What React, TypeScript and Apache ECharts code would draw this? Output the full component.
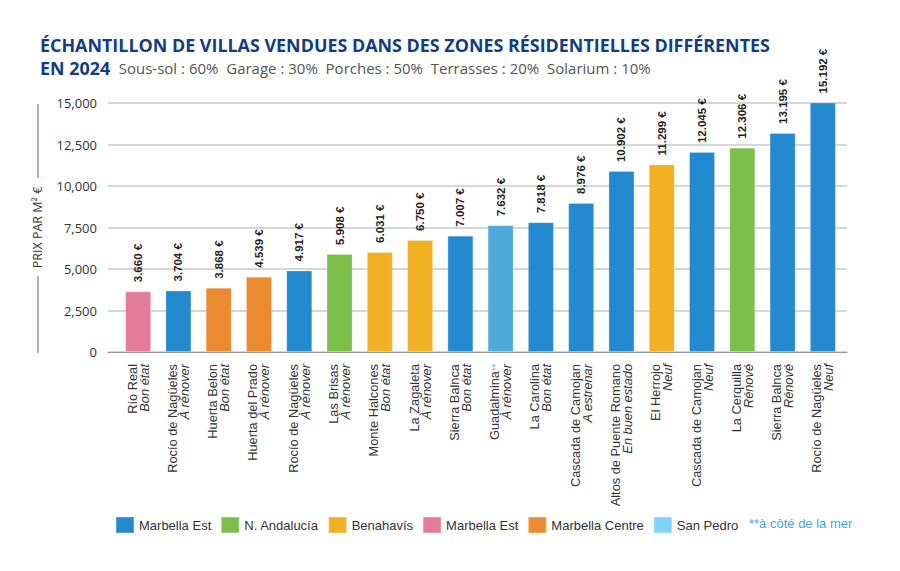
import React, { useEffect, useRef } from "react";
import * as echarts from "echarts";

const categories = [
  "Río Real", "Rocío de Nagüeles", "Huerta Belon", "Huerta del Prado", "Rocío de Nagüeles",
  "Las Brisas", "Monte Halcones", "La Zagaleta", "Sierra Balnca", "Guadalmina**",
  "La Carolina", "Cascada de Camojan", "Altos de Puente Romano", "El Herrojo",
  "Cascada de Camojan", "La Cerquilla", "Sierra Balnca", "Rocío de Nagüeles",
];
const conditions = [
  "Bon état", "À rénover", "Bon état", "À rénover", "À rénover",
  "À rénover", "Bon état", "À rénover", "Bon état", "À rénover",
  "Bon état", "A estrenar", "En buen estado", "Neuf",
  "Neuf", "Rénové", "Rénové", "Neuf",
];
const prices = [
  3660, 3704, 3868, 4539, 4917, 5908, 6031, 6750, 7007, 7632,
  7818, 8976, 10902, 11299, 12045, 12306, 13195, 15192,
];
// index into zoneNames
const zoneOfBar = [3, 0, 4, 4, 0, 1, 2, 2, 0, 5, 0, 0, 0, 2, 0, 1, 0, 0];
const zoneNames = ["Marbella Est", "N. Andalucía", "Benahavís", "Marbella Est", "Marbella Centre", "San Pedro"];
const zoneColors = ["#238ACF", "#7CBE4A", "#F2B025", "#E57B9B", "#EB8A31", "#4DAADB"];
const legendColors = ["#238ACF", "#7CBE4A", "#F2B025", "#E57B9B", "#EB8A31", "#80D3F7"];
const yTicks = { min: 0, max: 15000, interval: 2500 };
const titleText = "ÉCHANTILLON DE VILLAS VENDUES DANS DES ZONES RÉSIDENTIELLES DIFFÉRENTES";
const yearText = "EN 2024";
const subtitleText = "Sous-sol : 60%  Garage : 30%  Porches : 50%  Terrasses : 20%  Solarium : 10%";
const yName = "PRIX PAR M² €";
const seasideNote = "**à côté de la mer";

const FONT = "Open Sans";
const ARIAL = "Liberation Sans";

const fmtEuro = (v: number) => String(v).replace(/\B(?=(\d{3})+(?!\d))/g, ".") + " €";

export default function App() {
  const ref = useRef<HTMLDivElement>(null);
  useEffect(() => {
    if (!ref.current) return;
    const chart = echarts.init(ref.current, undefined, { renderer: "svg" });
    const keys = zoneNames.map((_, i) => "z" + i);
    const series = keys.map((k, z) => ({
      name: k,
      type: "bar",
      xAxisIndex: 1,
      yAxisIndex: 1,
      barWidth: 26,
      barGap: "-100%",
      itemStyle: { color: zoneColors[z], borderColor: "rgba(255,255,255,0.22)", borderWidth: 1 },
      label: {
        show: true,
        position: "top",
        rotate: 90,
        align: "left",
        verticalAlign: "middle",
        distance: 9,
        fontFamily: ARIAL,
        fontWeight: "bold",
        fontSize: 11.5,
        color: "#222",
        formatter: (p: any) => fmtEuro(p.value),
      },
      data: prices.map((v, i) => (zoneOfBar[i] === z ? v : "-")),
    }));
    chart.setOption({
      animation: false,
      textStyle: { fontFamily: FONT },
      title: {
        left: 40,
        top: 33,
        padding: 0,
        text: `${titleText}\n${yearText} {s|${subtitleText}}`,
        textStyle: {
          fontFamily: FONT,
          fontSize: 17.9,
          fontWeight: "bold",
          color: "#123C83",
          lineHeight: 23,
          rich: {
            s: {
              fontFamily: FONT,
              fontSize: 15,
              fontWeight: "normal",
              color: "#555",
              lineHeight: 23,
              padding: [0, 0, 0, 4],
            },
          },
        },
      },
      legend: {
        left: 115,
        top: 516,
        padding: 0,
        itemWidth: 18,
        itemHeight: 16,
        itemGap: 9,
        icon: "rect",
        textStyle: { fontFamily: ARIAL, fontSize: 13, color: "#333" },
        formatter: (n: string) => zoneNames[keys.indexOf(n)],
        data: keys.map((k, i) => ({ name: k, itemStyle: { color: legendColors[i] } })),
      },
      graphic: [
        {
          type: "text",
          left: 749,
          top: 517,
          style: { text: seasideNote, fill: "#3FA9E0", font: `13px ${ARIAL}` },
        },
        { type: "line", shape: { x1: 38, y1: 104, x2: 38, y2: 178 }, style: { stroke: "#999", lineWidth: 1.5 } },
        { type: "line", shape: { x1: 38, y1: 276, x2: 38, y2: 353 }, style: { stroke: "#999", lineWidth: 1.5 } },
      ],
      grid: [
        { left: 108, right: 53, top: 103, bottom: 219 },
        { left: 118, width: 725, top: 103, bottom: 219 },
      ],
      xAxis: [
        {
          type: "category",
          gridIndex: 0,
          data: [""],
          axisLine: { show: true, lineStyle: { color: "#999", width: 1 } },
          axisTick: { show: false },
          axisLabel: { show: false },
        },
        {
          type: "category",
          gridIndex: 1,
          data: categories,
          axisLine: { show: false },
          axisTick: { show: false },
          axisLabel: {
            interval: 0,
            rotate: 90,
            margin: 12,
            color: "#333",
            fontFamily: ARIAL,
            fontSize: 12.8,
            formatter: (v: string, i: number) => {
              const sea = v.endsWith("**");
              const name = sea ? v.slice(0, -2) : v;
              return `{a|${name}}${sea ? "{s|**}" : ""}\n{b|${conditions[i]}}`;
            },
            rich: {
              a: { fontFamily: ARIAL, fontSize: 12.8, color: "#333", lineHeight: 12 },
              b: { fontFamily: ARIAL, fontSize: 12.8, color: "#333", fontStyle: "italic", lineHeight: 12 },
              s: { fontFamily: ARIAL, fontSize: 9, color: "#4DAADB", lineHeight: 12 },
            },
          },
        },
      ],
      yAxis: [
        {
          type: "value",
          gridIndex: 0,
          ...yTicks,
          name: yName,
          nameLocation: "middle",
          nameGap: 64,
          nameTextStyle: { fontFamily: FONT, fontSize: 12.5, color: "#333" },
          axisLine: { show: false },
          axisTick: { show: false },
          axisLabel: {
            margin: 11,
            fontFamily: FONT,
            fontSize: 13,
            color: "#333",
            formatter: (v: number) => v.toLocaleString("en-US"),
          },
          splitLine: { lineStyle: { color: "#C8C8C8", width: 1.5 } },
        },
        {
          type: "value",
          gridIndex: 1,
          ...yTicks,
          show: false,
          splitLine: { show: false },
        },
      ],
      series,
    });
    return () => chart.dispose();
  }, []);
  return <div ref={ref} style={{ width: 900, height: 571, margin: -8 }} />;
}
